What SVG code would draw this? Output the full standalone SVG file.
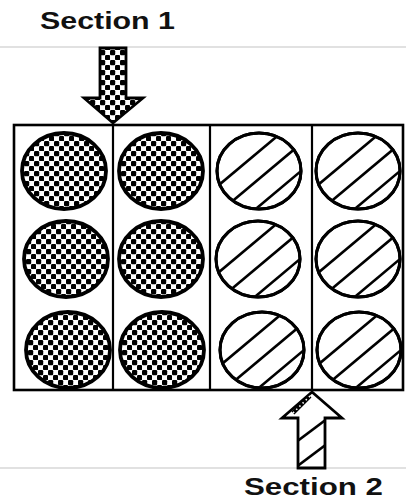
<svg xmlns="http://www.w3.org/2000/svg" width="406" height="501" viewBox="0 0 406 501">
<style>
.lbl{font-family:"Liberation Sans",Arial,sans-serif;font-weight:bold;font-size:23px;fill:#111}
.rule{stroke:#c4c4c4;stroke-width:1.2}
.border{fill:none;stroke:#000;stroke-width:2.6}
.div{stroke:#000;stroke-width:2.2}
.chk{fill:url(#checker);stroke:#000;stroke-width:3.8}
.hat{fill:#fff;stroke:#000;stroke-width:3}
.hl{stroke:#000;stroke-width:2.6}
.arrow{stroke:#000;stroke-width:2.8;stroke-linejoin:miter}
</style>
<defs>
<pattern id="checker" patternUnits="userSpaceOnUse" width="10" height="10">
<rect width="10" height="10" fill="#fff"/>
<rect x="0" y="0" width="5.2" height="5.2" rx="1.2" fill="#000"/>
<rect x="5" y="5" width="5.2" height="5.2" rx="1.2" fill="#000"/>
</pattern>
<clipPath id="cc"><ellipse cx="0" cy="0" rx="41" ry="37"/></clipPath>
<g id="checkCircle"><ellipse class="chk" cx="0" cy="0" rx="42" ry="38"/></g>
<g id="hatchCircle">
<ellipse class="hat" cx="0" cy="0" rx="42" ry="38"/>
<g clip-path="url(#cc)"><g transform="rotate(-40)">
<line class="hl" x1="-60" y1="-15" x2="60" y2="-15"/>
<line class="hl" x1="-60" y1="6" x2="60" y2="6"/>
<line class="hl" x1="-60" y1="27" x2="60" y2="27"/>
</g></g>
<ellipse cx="0" cy="0" rx="42" ry="38" fill="none" stroke="#000" stroke-width="3"/>
</g>
<clipPath id="shaftClip"><rect x="299" y="419" width="25" height="49"/></clipPath>
</defs>

<g id="labels">
<text class="lbl" x="40" y="29" textLength="135" lengthAdjust="spacingAndGlyphs">Section 1</text>
<text class="lbl" x="244" y="495" textLength="139" lengthAdjust="spacingAndGlyphs">Section 2</text>
<line class="rule" x1="0" y1="47" x2="406" y2="47"/>
<line class="rule" x1="0" y1="468" x2="406" y2="468"/>
</g>

<g id="frame">
<rect class="border" x="14" y="125" width="389" height="265"/>
<line class="div" x1="113" y1="125" x2="113" y2="390"/>
<line class="div" x1="210" y1="125" x2="210" y2="390"/>
<line class="div" x1="312" y1="125" x2="312" y2="390"/>
</g>

<g id="col1">
<use href="#checkCircle" transform="translate(64,171)"/>
<use href="#checkCircle" transform="translate(66,259)"/>
<use href="#checkCircle" transform="translate(68,350)"/>
</g>
<g id="col2">
<use href="#checkCircle" transform="translate(161,171)"/>
<use href="#checkCircle" transform="translate(161,259)"/>
<use href="#checkCircle" transform="translate(162,350)"/>
</g>
<g id="col3">
<use href="#hatchCircle" transform="translate(259,171)"/>
<use href="#hatchCircle" transform="translate(258,259)"/>
<use href="#hatchCircle" transform="translate(262,350)"/>
</g>
<g id="col4">
<use href="#hatchCircle" transform="translate(358,171)"/>
<use href="#hatchCircle" transform="translate(358,259)"/>
<use href="#hatchCircle" transform="translate(359,350)"/>
</g>

<g id="connectors">
<g id="arrow-section1">
<polygon class="arrow" fill="url(#checker)" points="100,48 126,48 126,98 143,98 113,123 84,98 100,98"/>
</g>
<g id="arrow-section2">
<polygon class="arrow" fill="#fff" points="312,392 342,418 325,418 325,468 298,468 298,418 282,418"/>
<g clip-path="url(#shaftClip)">
<line class="hl" x1="296" y1="442" x2="328" y2="418"/>
<line class="hl" x1="296" y1="467" x2="328" y2="443"/>
</g>
<line x1="310" y1="396" x2="293" y2="413" stroke="#000" stroke-width="4"/>
<line x1="310" y1="396" x2="293" y2="413" stroke="#fff" stroke-width="1.6" stroke-dasharray="1.5 3"/>
</g>
</g>
</svg>
